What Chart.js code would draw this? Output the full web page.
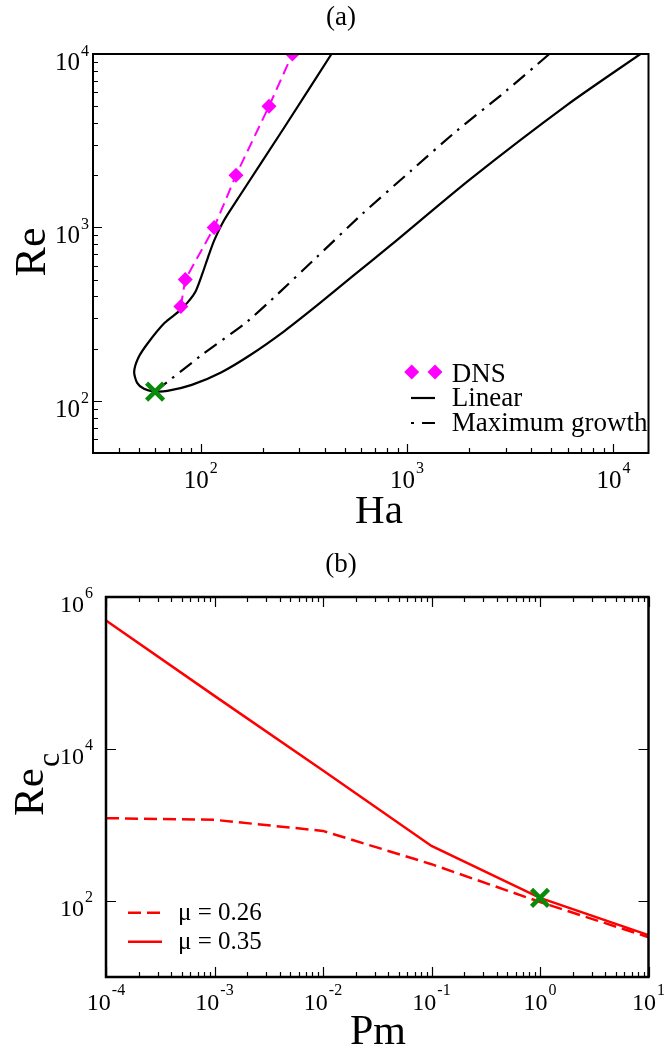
<!DOCTYPE html>
<html><head><meta charset="utf-8">
<script src="https://cdn.jsdelivr.net/npm/chart.js@4.4.1/dist/chart.umd.min.js"></script>
<style>
html,body{margin:0;padding:0;background:#fff;}
#wrap{position:relative;width:665px;height:1049px;overflow:hidden;}
canvas{position:absolute;left:0;}
#ca{top:0;} #cb{top:530px;}
</style></head><body>
<div id="wrap"><canvas id="ca" width="665" height="530"></canvas><canvas id="cb" width="665" height="519"></canvas></div>
<script>
// ---------- Panel (a) data ----------
const dnsHa = [80, 84, 116, 148, 214, 278];
const dnsRe = [350, 500, 1000, 2000, 5000, 10000];
const linearHa = [430, 254.2, 152.4, 129.4, 116.1, 108.7, 101.9, 94.4, 86.5, 78.5, 66.6, 55.4, 49.7, 47.5, 49.1, 53.0, 59.1, 68.8, 90.4, 125.3, 173.7, 254.2, 372.2, 544.7, 842.1, 2012, 5975, 13520];
const linearRe = [10000, 3781, 1487, 1097, 842, 681, 544, 428.7, 370.7, 328.9, 280.7, 215.4, 176.7, 146.8, 126.9, 117.2, 113.4, 114.1, 123.6, 145.8, 183.8, 252.6, 360.9, 523, 798, 1888, 5093, 10000];
const maxGrowthHa = [60, 102.6, 164.5, 228, 365.2, 607.5, 1047, 1741, 2891, 4896];
const maxGrowthRe = [113, 186.2, 280.7, 397.5, 675, 1199, 2127, 3610, 5866, 10000];
const critA = [{x: 60, y: 113}];
const aXTickExps = ['2', '3', '4'];
const aYTickExps = ['2', '3', '4'];

// ---------- Panel (b) data ----------
const pm = [1e-4, 1e-3, 1e-2, 1e-1, 1, 10];
const rec026 = [1230, 1170, 836, 305, 97, 33.4];
const rec035 = [490000, 50000, 5200, 530, 110, 35.5];
const critB = [{x: 1, y: 110}];
const bXTickExps = ['-4', '-3', '-2', '-1', '0', '1'];
const bYTickExps = ['2', '4', '6'];

const SERIF = '"Liberation Serif", "DejaVu Serif", serif';
const zip = (xs, ys) => xs.map((v, i) => ({x: v, y: ys[i]}));
const expVal = e => Math.pow(10, parseFloat(e));

function minorTicks(min, max) {
  const out = [];
  for (let e = Math.floor(Math.log10(min)) - 1; e <= Math.ceil(Math.log10(max)); e++) {
    for (let k = 2; k <= 9; k++) {
      const v = k * Math.pow(10, e);
      if (v > min * 1.0001 && v < max * 0.9999) out.push(v);
    }
  }
  return out;
}

function drawPow(ctx, exp, x, y, align, baseSize, expSize, raise) {
  ctx.font = baseSize + 'px ' + SERIF;
  const wb = ctx.measureText('10').width;
  ctx.font = expSize + 'px ' + SERIF;
  const we = ctx.measureText(exp).width;
  const tot = wb + we + 1;
  let sx = align === 'center' ? x - tot / 2 : x - tot;
  ctx.textAlign = 'left';
  ctx.textBaseline = 'alphabetic';
  ctx.font = baseSize + 'px ' + SERIF;
  ctx.fillText('10', sx, y);
  ctx.font = expSize + 'px ' + SERIF;
  ctx.fillText(exp, sx + wb + 1, y - raise);
}

const frameTicks = {
  id: 'frameTicks',
  afterDatasetsDraw(chart, args, o) {
    const {ctx, chartArea: a} = chart;
    const xs = chart.scales.x, ys = chart.scales.y;
    ctx.save();
    ctx.fillStyle = '#000';
    ctx.strokeStyle = '#000';
    ctx.lineWidth = 1.2;
    ctx.beginPath();
    const xt = (vals, len) => vals.forEach(v => {
      const p = Math.round(xs.getPixelForValue(v)) + 0.5;
      ctx.moveTo(p, a.bottom); ctx.lineTo(p, a.bottom - len);
      if (o.tickTop) { ctx.moveTo(p, a.top); ctx.lineTo(p, a.top + len); }
    });
    const yt = (vals, len) => vals.forEach(v => {
      const p = Math.round(ys.getPixelForValue(v)) + 0.5;
      ctx.moveTo(a.left, p); ctx.lineTo(a.left + len, p);
      if (o.tickRight) { ctx.moveTo(a.right, p); ctx.lineTo(a.right - len, p); }
    });
    xt(o.xMajor, o.majorLen); xt(o.xMinor, o.minorLen);
    yt(o.yMajor, o.majorLen); yt(o.yMinor, o.minorLen);
    ctx.stroke();
    ctx.lineWidth = o.frameWidth;
    ctx.strokeRect(a.left, a.top, a.right - a.left, a.bottom - a.top);
    o.xExps.forEach(e => drawPow(ctx, e, xs.getPixelForValue(expVal(e)), a.bottom + o.xLabelDy, 'center', o.baseSize, o.expSize, 15));
    o.yExps.forEach(e => drawPow(ctx, e, o.yLabelRight, ys.getPixelForValue(expVal(e)) + o.yLabelDy, 'right', o.baseSize, o.expSize, 14));
    if (o.extra) o.extra(ctx, chart);
    ctx.restore();
  }
};

// ---------- Chart (a) ----------
new Chart(document.getElementById('ca'), {
  type: 'scatter',
  data: {
    datasets: [
      {label: 'crit', data: critA, pointStyle: 'crossRot', pointRadius: 12, borderColor: '#0a8a0a', borderWidth: 4.5, showLine: false},
      {label: 'DNS', data: zip(dnsHa, dnsRe), showLine: true, borderColor: '#ff00ff', backgroundColor: '#ff00ff', borderWidth: 2, borderDash: [11, 6], pointStyle: 'rectRot', pointRadius: 7.5, pointBorderWidth: 0, tension: 0},
      {label: 'Linear', data: zip(linearHa, linearRe), showLine: true, borderColor: '#000', borderWidth: 2.2, pointRadius: 0, tension: 0.25},
      {label: 'Maximum growth', data: zip(maxGrowthHa, maxGrowthRe), showLine: true, borderColor: '#000', borderWidth: 2.2, borderDash: [15, 7, 2.5, 7], pointRadius: 0, tension: 0.2}
    ]
  },
  options: {
    responsive: false, animation: false, devicePixelRatio: 1,
    layout: {padding: {left: 93, right: 2, top: 54, bottom: 77}},
    scales: {
      x: {type: 'logarithmic', min: 30, max: 14800, display: false},
      y: {type: 'logarithmic', min: 50, max: 10000, display: false}
    },
    plugins: {
      legend: {display: false}, tooltip: {enabled: false},
      frameTicks: {
        frameWidth: 2, majorLen: 9, minorLen: 5, tickTop: false, tickRight: false,
        xMajor: aXTickExps.map(expVal), xMinor: minorTicks(30, 14800),
        yMajor: aYTickExps.map(expVal), yMinor: minorTicks(50, 10000),
        xExps: aXTickExps, yExps: aYTickExps, baseSize: 25, expSize: 16,
        xLabelDy: 35, yLabelRight: 89, yLabelDy: 16,
        extra(ctx, chart) {
          ctx.textAlign = 'center'; ctx.textBaseline = 'alphabetic';
          ctx.font = '27px ' + SERIF;
          ctx.fillText('(a)', 341, 25);
          ctx.font = '41px ' + SERIF;
          ctx.fillText('Ha', 379, 523);
          ctx.save();
          ctx.translate(45, 252); ctx.rotate(-Math.PI / 2);
          ctx.font = '44px ' + SERIF;
          ctx.fillText('Re', 0, 0);
          ctx.restore();
          const ds = chart.data.datasets;
          ctx.fillStyle = ds[1].backgroundColor;
          [411.7, 435].forEach(cx => {
            ctx.beginPath(); ctx.moveTo(cx, 372 - 7.5); ctx.lineTo(cx + 7.5, 372); ctx.lineTo(cx, 372 + 7.5); ctx.lineTo(cx - 7.5, 372); ctx.closePath(); ctx.fill();
          });
          ctx.strokeStyle = '#000'; ctx.lineWidth = 2.2;
          ctx.beginPath(); ctx.moveTo(411, 398); ctx.lineTo(435, 398); ctx.stroke();
          ctx.setLineDash([3, 8, 13, 50]);
          ctx.beginPath(); ctx.moveTo(411, 423); ctx.lineTo(435, 423); ctx.stroke();
          ctx.setLineDash([]);
          ctx.fillStyle = '#000'; ctx.textAlign = 'left';
          ctx.font = '27px ' + SERIF;
          ctx.fillText(ds[1].label, 451.7, 381.5);
          ctx.fillText(ds[2].label, 451.7, 406);
          ctx.fillText(ds[3].label, 451.7, 430.5);
        }
      }
    }
  },
  plugins: [frameTicks]
});

// ---------- Chart (b) ----------
new Chart(document.getElementById('cb'), {
  type: 'scatter',
  data: {
    datasets: [
      {label: 'crit', data: critB, pointStyle: 'crossRot', pointRadius: 12, borderColor: '#0a8a0a', borderWidth: 4.5, showLine: false},
      {label: 'μ = 0.26', data: zip(pm, rec026), showLine: true, borderColor: '#ff0000', borderWidth: 2.5, borderDash: [13, 6], pointRadius: 0, tension: 0},
      {label: 'μ = 0.35', data: zip(pm, rec035), showLine: true, borderColor: '#ff0000', borderWidth: 2.5, pointRadius: 0, tension: 0}
    ]
  },
  options: {
    responsive: false, animation: false, devicePixelRatio: 1,
    layout: {padding: {left: 106, right: 16, top: 67, bottom: 72}},
    scales: {
      x: {type: 'logarithmic', min: 1e-4, max: 10, display: false},
      y: {type: 'logarithmic', min: 10, max: 1e6, display: false}
    },
    plugins: {
      legend: {display: false}, tooltip: {enabled: false},
      frameTicks: {
        frameWidth: 2.5, majorLen: 10, minorLen: 5, tickTop: true, tickRight: true,
        xMajor: bXTickExps.map(expVal), xMinor: minorTicks(1e-4, 10),
        yMajor: bYTickExps.map(expVal), yMinor: [],
        xExps: bXTickExps, yExps: bYTickExps, baseSize: 24, expSize: 16,
        xLabelDy: 33, yLabelRight: 93, yLabelDy: 15,
        extra(ctx, chart) {
          ctx.textAlign = 'center'; ctx.textBaseline = 'alphabetic';
          ctx.font = '27px ' + SERIF;
          ctx.fillText('(b)', 341, 42);
          ctx.font = '42px ' + SERIF;
          ctx.fillText('Pm', 378, 514);
          ctx.save();
          ctx.translate(43, 262); ctx.rotate(-Math.PI / 2);
          ctx.font = '43px ' + SERIF;
          const wRe = ctx.measureText('Re').width;
          ctx.textAlign = 'left';
          ctx.fillText('Re', -wRe / 2, 0);
          ctx.font = '32px ' + SERIF;
          ctx.fillText('c', wRe / 2 + 1, 16);
          ctx.restore();
          const ds = chart.data.datasets;
          ctx.strokeStyle = '#ff0000'; ctx.lineWidth = 2.5;
          ctx.setLineDash([13, 6]);
          ctx.beginPath(); ctx.moveTo(128, 382.7); ctx.lineTo(162, 382.7); ctx.stroke();
          ctx.setLineDash([]);
          ctx.beginPath(); ctx.moveTo(128, 411.7); ctx.lineTo(162, 411.7); ctx.stroke();
          ctx.fillStyle = '#000'; ctx.textAlign = 'left';
          ctx.font = '25px ' + SERIF;
          ctx.fillText(ds[1].label, 178, 390);
          ctx.fillText(ds[2].label, 178, 419);
        }
      }
    }
  },
  plugins: [frameTicks]
});
</script>
</body></html>
